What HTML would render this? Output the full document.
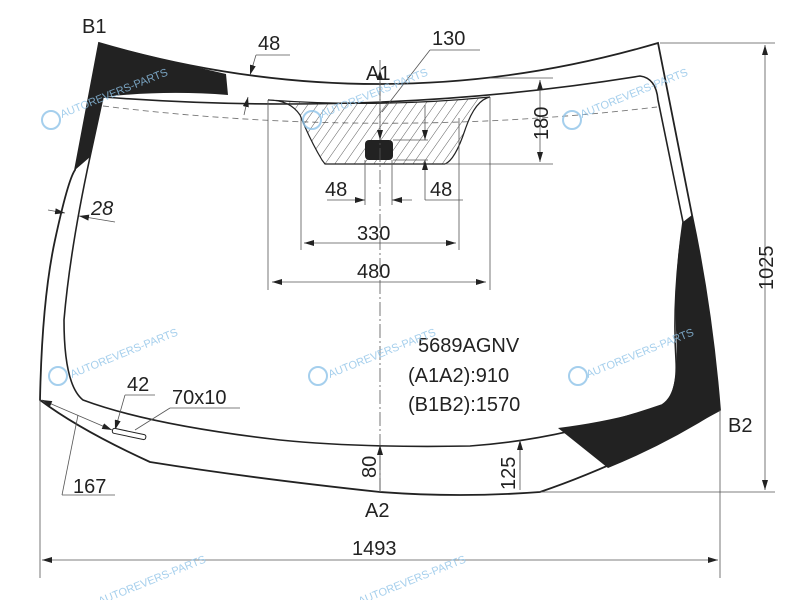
<!DOCTYPE html>
<html><head><style>
html,body{margin:0;padding:0;background:#fff;}
svg{display:block;font-family:"Liberation Sans",sans-serif;}
</style></head><body>
<svg width="800" height="600" viewBox="0 0 800 600" xmlns="http://www.w3.org/2000/svg">
<defs>
<pattern id="h" width="8" height="8" patternUnits="userSpaceOnUse" patternTransform="rotate(35)">
<line x1="0" y1="0" x2="0" y2="8" stroke="#333" stroke-width="0.8"/>
</pattern>
<marker id="a" markerWidth="10" markerHeight="6" refX="10" refY="3" orient="auto-start-reverse" markerUnits="userSpaceOnUse">
<path d="M0,0 L10,3 L0,6 Z" fill="#222"/>
</marker>
</defs>
<g fill="#222">
<path d="M99,43 Q165,60 226,74 L228,95 Q165,90 103,97 L90,157 L75,170 Z"/>
<path d="M692,215 Q712,310 720,410 Q665,445 608,468 L558,428 Q620,420 662,405 Q680,395 676,330 Q674,270 683,222 Z"/>
</g>
<path d="M99,43 Q380,125 658,43 L692,215 Q712,310 720,410 Q620,465 540,492 Q460,498 380,492 Q250,478 150,462 Q80,430 40,400 Q42,300 55,240 Q68,180 75,170 Z" fill="none" stroke="#222" stroke-width="1.8"/>
<path d="M103,97 Q380,118 640,76 Q656,78 658,100 L683,222 Q672,300 676,360 Q678,395 662,405 Q560,440 470,446 Q360,448 280,440 Q150,425 83,400 Q64,385 64,320 Q70,250 90,157 Z" fill="none" stroke="#222" stroke-width="1.6"/>
<path d="M103,106 Q380,140 657,107" fill="none" stroke="#777" stroke-dasharray="6,4" stroke-width="0.9"/>
<path d="M268,100 Q290,100 300,115 Q310,140 322,160 L325,164 L445,164 Q455,160 465,130 Q475,100 490,97 Q380,108 268,100 Z" fill="url(#h)" stroke="#222" stroke-width="1.2"/>
<rect x="365" y="140" width="28" height="20" rx="4" fill="#222"/>
<g stroke="#555" stroke-width="0.8" fill="none">
<line x1="380" y1="60" x2="380" y2="495" stroke-dasharray="14,3,2,3"/>
<line x1="268" y1="100" x2="268" y2="290"/><line x1="490" y1="97" x2="490" y2="290"/>
<line x1="301" y1="118" x2="301" y2="250"/><line x1="459" y1="118" x2="459" y2="250"/>
<line x1="365" y1="160" x2="365" y2="205"/><line x1="392" y1="160" x2="392" y2="205"/>
<line x1="272" y1="282" x2="486" y2="282" marker-start="url(#a)" marker-end="url(#a)"/>
<line x1="304" y1="243" x2="456" y2="243" marker-start="url(#a)" marker-end="url(#a)"/>
<line x1="327" y1="200" x2="365" y2="200" marker-end="url(#a)"/>
<line x1="412" y1="200" x2="392" y2="200" marker-end="url(#a)"/>
<line x1="393" y1="140" x2="428" y2="140"/><line x1="393" y1="160" x2="428" y2="160"/>
<line x1="425" y1="105" x2="425" y2="140" marker-end="url(#a)"/>
<line x1="425" y1="200" x2="425" y2="160" marker-end="url(#a)"/>
<line x1="425" y1="200" x2="463" y2="200"/>
<line x1="380" y1="70" x2="380" y2="100" marker-start="url(#a)"/>
<line x1="380" y1="108" x2="380" y2="140" marker-end="url(#a)"/>
<line x1="382" y1="112" x2="430" y2="50"/><line x1="430" y1="50" x2="480" y2="50"/>
<line x1="445" y1="164" x2="553" y2="164"/><line x1="490" y1="78" x2="553" y2="78"/>
<line x1="540" y1="80" x2="540" y2="162" marker-start="url(#a)" marker-end="url(#a)"/>
<line x1="660" y1="43" x2="775" y2="43"/><line x1="540" y1="492" x2="775" y2="492"/>
<line x1="765" y1="45" x2="765" y2="490" marker-start="url(#a)" marker-end="url(#a)"/>
<line x1="40" y1="400" x2="40" y2="578"/><line x1="720" y1="410" x2="720" y2="578"/>
<line x1="42" y1="560" x2="718" y2="560" marker-start="url(#a)" marker-end="url(#a)"/>
<line x1="380" y1="480" x2="380" y2="445" marker-end="url(#a)"/>
<line x1="380" y1="480" x2="380" y2="492" />
<line x1="520" y1="440" x2="520" y2="490"/><line x1="520" y1="470" x2="520" y2="440" marker-end="url(#a)"/>
<line x1="256" y1="55" x2="250" y2="75" marker-end="url(#a)"/><line x1="244" y1="115" x2="248" y2="97" marker-end="url(#a)"/>
<line x1="256" y1="55" x2="290" y2="55"/>
<line x1="48" y1="210" x2="65" y2="213" marker-end="url(#a)"/><line x1="115" y1="222" x2="79" y2="216" marker-end="url(#a)"/>
<line x1="42" y1="400" x2="112" y2="430" marker-start="url(#a)" marker-end="url(#a)"/>
<line x1="78" y1="415" x2="62" y2="495"/><line x1="62" y1="495" x2="115" y2="495"/>
<line x1="125" y1="395" x2="115" y2="430" marker-end="url(#a)"/><line x1="125" y1="395" x2="155" y2="395"/>
<line x1="135" y1="430" x2="170" y2="408"/><line x1="170" y1="408" x2="240" y2="408"/>
</g>
<rect x="113" y="428" width="34" height="5" rx="2" transform="rotate(12 113 428)" fill="#fff" stroke="#222" stroke-width="1"/>
<g fill="#222" font-size="20">
<text x="82" y="33">B1</text>
<text x="366" y="80">A1</text>
<text x="258" y="50">48</text>
<text x="432" y="45">130</text>
<text x="325" y="196">48</text>
<text x="430" y="196">48</text>
<text x="357" y="240">330</text>
<text x="357" y="278">480</text>
<text x="91" y="215" font-style="italic">28</text>
<text x="418" y="352">5689AGNV</text>
<text x="408" y="382">(A1A2):910</text>
<text x="408" y="411">(B1B2):1570</text>
<text x="127" y="391">42</text>
<text x="172" y="404">70x10</text>
<text x="73" y="493">167</text>
<text x="728" y="432">B2</text>
<text x="365" y="517">A2</text>
<text x="352" y="555">1493</text>
<text transform="translate(548,140) rotate(-90)">180</text>
<text transform="translate(773,290) rotate(-90)">1025</text>
<text transform="translate(376,478) rotate(-90)">80</text>
<text transform="translate(515,490) rotate(-90)">125</text>
</g>
<g fill="#8fc3e8" font-size="11" opacity="0.8">
<text transform="translate(62,118) rotate(-22)">AUTOREVERS-PARTS</text>
<text transform="translate(322,118) rotate(-22)">AUTOREVERS-PARTS</text>
<text transform="translate(582,118) rotate(-22)">AUTOREVERS-PARTS</text>
<text transform="translate(72,378) rotate(-22)">AUTOREVERS-PARTS</text>
<text transform="translate(330,378) rotate(-22)">AUTOREVERS-PARTS</text>
<text transform="translate(588,378) rotate(-22)">AUTOREVERS-PARTS</text>
<text transform="translate(100,605) rotate(-22)">AUTOREVERS-PARTS</text>
<text transform="translate(360,605) rotate(-22)">AUTOREVERS-PARTS</text>
</g>
<g fill="none" stroke="#8fc3e8" stroke-width="2" opacity="0.8">
<circle cx="51" cy="120" r="9"/><circle cx="312" cy="120" r="9"/><circle cx="572" cy="120" r="9"/>
<circle cx="58" cy="376" r="9"/><circle cx="318" cy="376" r="9"/><circle cx="578" cy="376" r="9"/>
</g>
</svg>
</body></html>
